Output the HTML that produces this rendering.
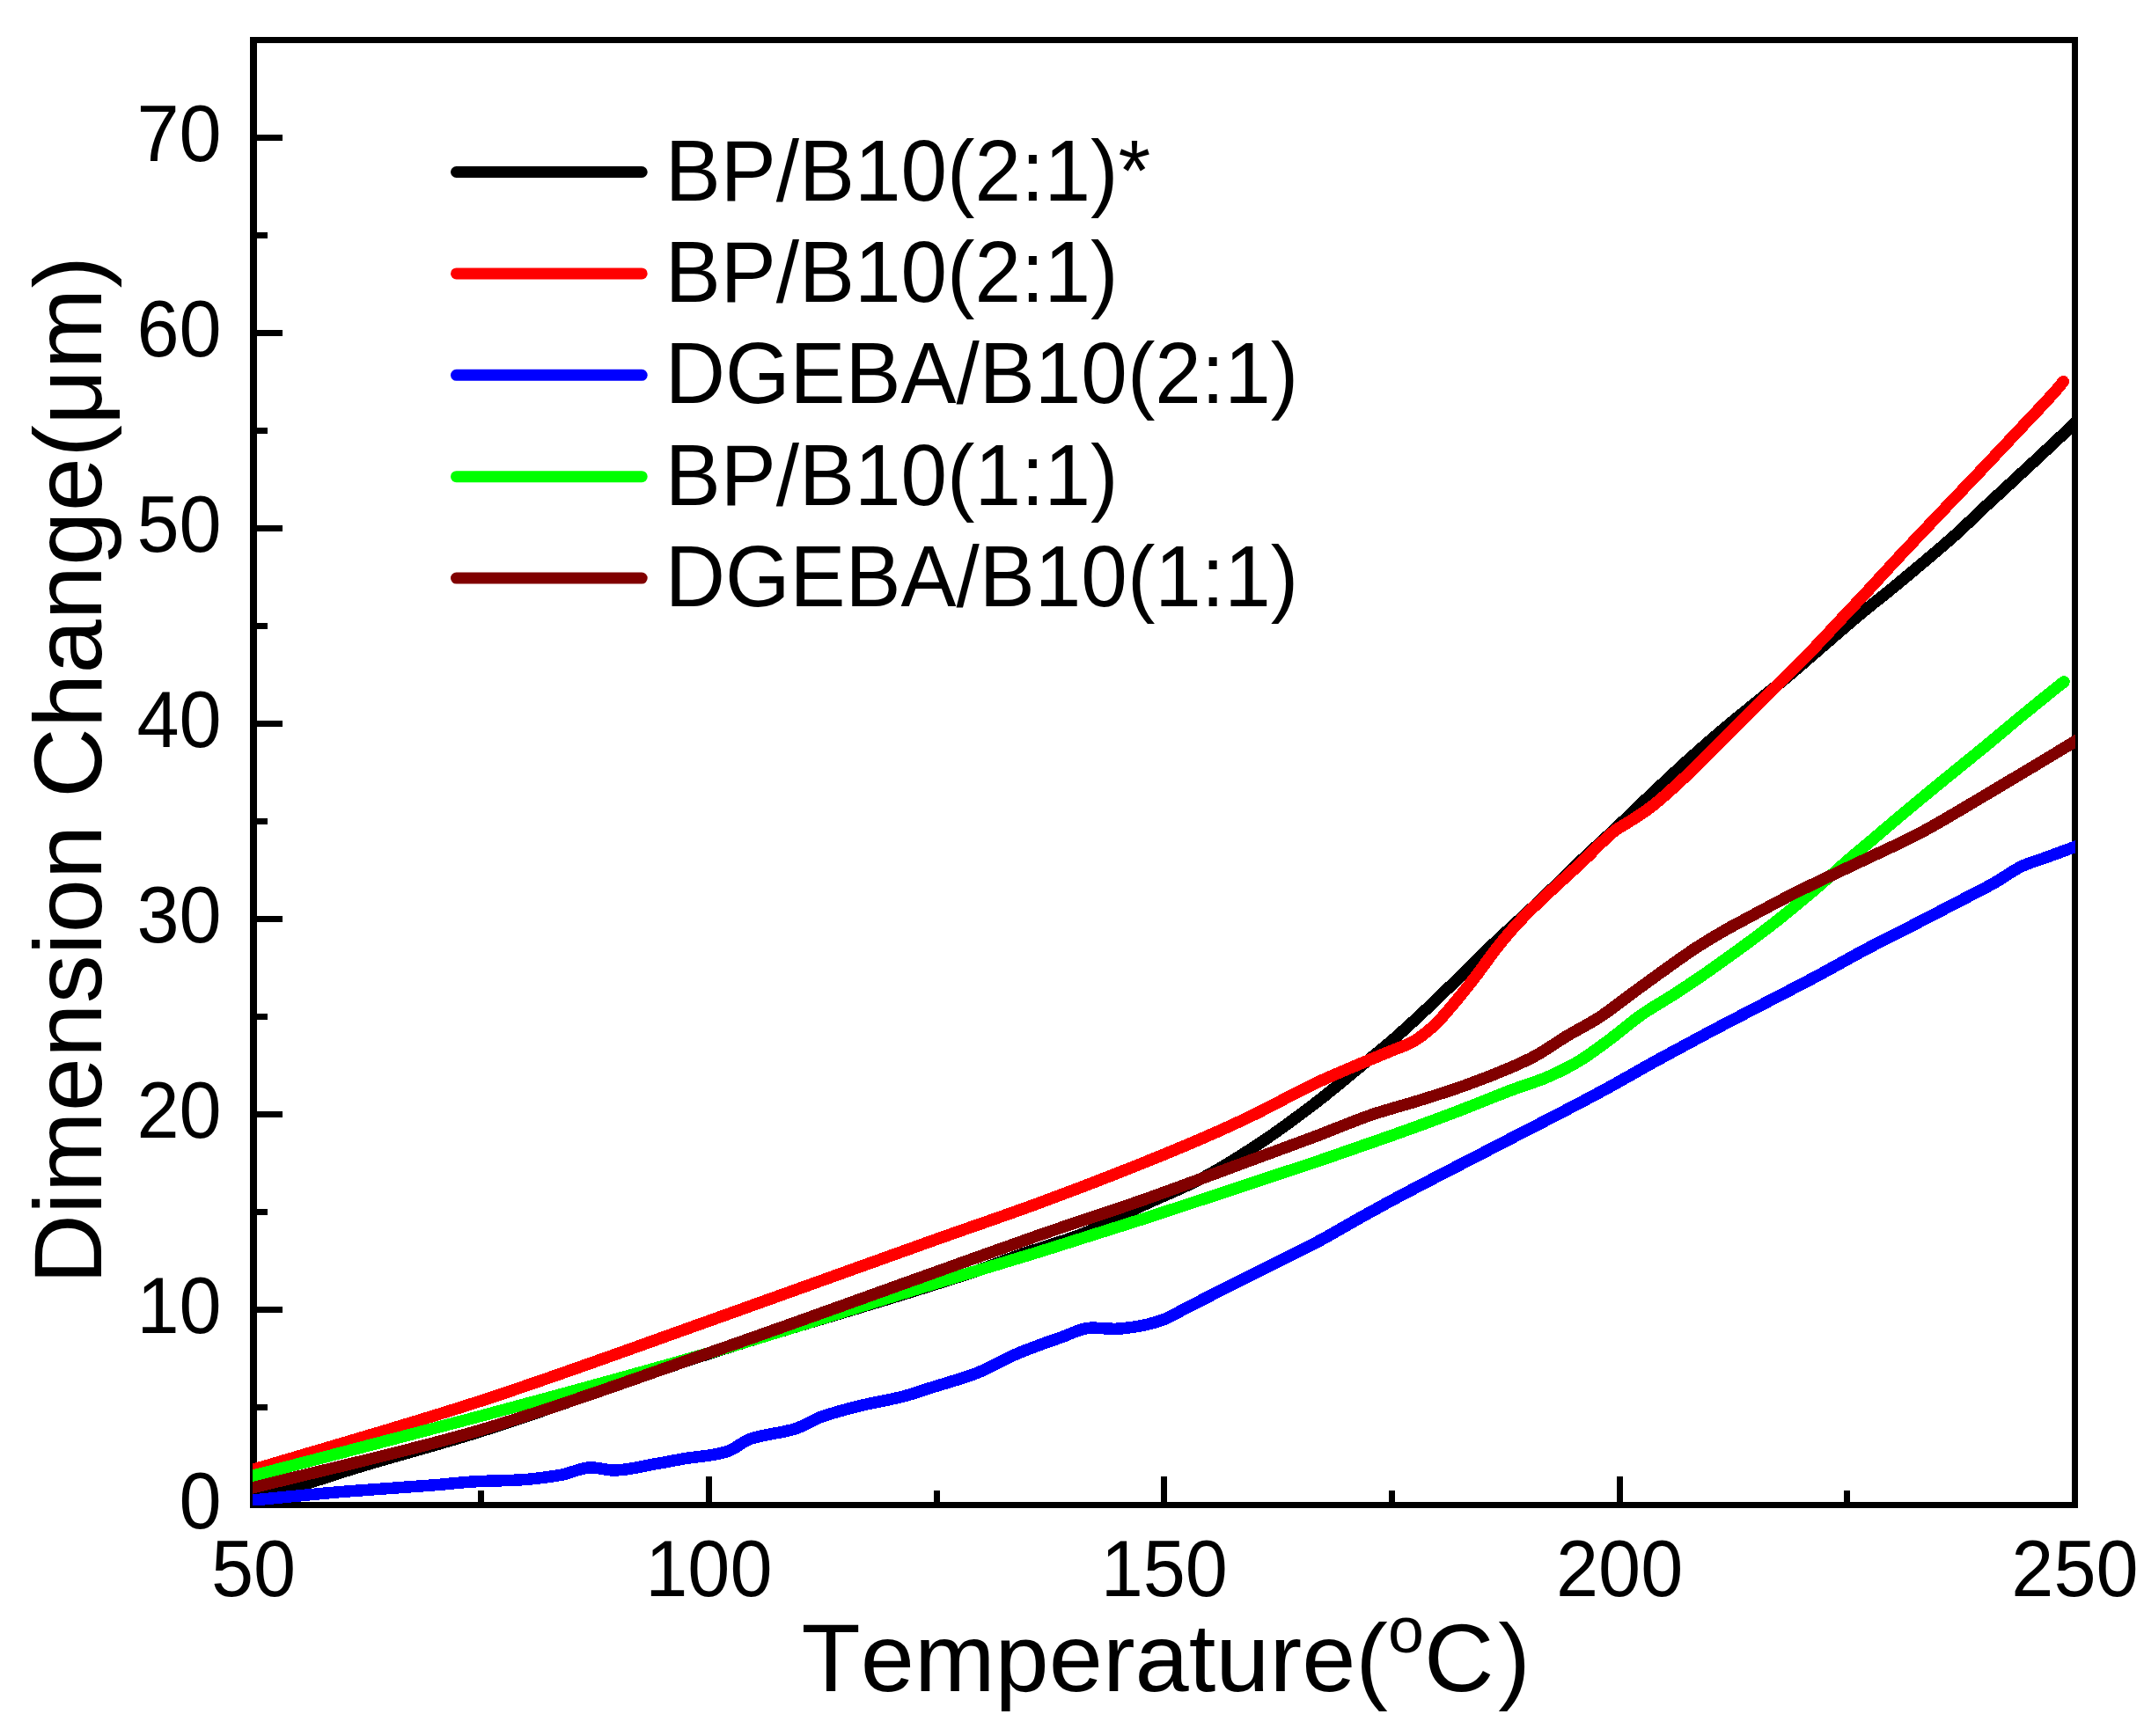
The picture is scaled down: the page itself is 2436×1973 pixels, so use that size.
<!DOCTYPE html>
<html lang="en">
<head>
<meta charset="utf-8">
<title>Dimension Change vs Temperature</title>
<style>
html,body{margin:0;padding:0;background:#fff;}
body{width:2436px;height:1973px;overflow:hidden;}
svg{display:block;}
text{font-family:"Liberation Sans",sans-serif;fill:#000;font-kerning:none;font-variant-ligatures:none;}
.tick{font-size:86.5px;}
.title{font-size:110px;}
.ytitle{letter-spacing:0.25px;}
.leg{font-size:94.5px;}
.curve{fill:none;stroke-width:13.5;stroke-linejoin:round;}
</style>
</head>
<body>
<svg width="2436" height="1973" viewBox="0 0 2436 1973">
<rect x="0" y="0" width="2436" height="1973" fill="#fff"/>
<defs><clipPath id="plotclip"><rect x="287" y="45" width="2071" height="1666"/></clipPath></defs>
<g id="axes" fill="#000" shape-rendering="crispEdges">
<rect x="284" y="42" width="8" height="1672"/>
<rect x="2354" y="42" width="7" height="1672"/>
<rect x="284" y="42" width="2077" height="7"/>
<rect x="284" y="1707" width="2077" height="7"/>
<rect x="801.9" y="1678" width="7" height="30"/>
<rect x="1319.2" y="1678" width="7" height="30"/>
<rect x="1836.6" y="1678" width="7" height="30"/>
<rect x="543.2" y="1694" width="7" height="14"/>
<rect x="1060.6" y="1694" width="7" height="14"/>
<rect x="1577.9" y="1694" width="7" height="14"/>
<rect x="2095.3" y="1694" width="7" height="14"/>
<rect x="288" y="1485.0" width="33" height="7"/>
<rect x="288" y="1263.0" width="33" height="7"/>
<rect x="288" y="1041.0" width="33" height="7"/>
<rect x="288" y="819.0" width="33" height="7"/>
<rect x="288" y="597.0" width="33" height="7"/>
<rect x="288" y="375.0" width="33" height="7"/>
<rect x="288" y="153.0" width="33" height="7"/>
<rect x="288" y="1596.0" width="16" height="7"/>
<rect x="288" y="1374.0" width="16" height="7"/>
<rect x="288" y="1152.0" width="16" height="7"/>
<rect x="288" y="930.0" width="16" height="7"/>
<rect x="288" y="708.0" width="16" height="7"/>
<rect x="288" y="486.0" width="16" height="7"/>
<rect x="288" y="264.0" width="16" height="7"/>
</g>
<g class="tick" text-anchor="middle">
<text transform="translate(288.0,1814.1) scale(1,1.045)">50</text>
<text transform="translate(805.4,1814.1) scale(1,1.045)">100</text>
<text transform="translate(1322.8,1814.1) scale(1,1.045)">150</text>
<text transform="translate(1840.1,1814.1) scale(1,1.045)">200</text>
<text transform="translate(2357.5,1814.1) scale(1,1.045)">250</text>
</g>
<g class="tick" text-anchor="end">
<text transform="translate(251.7,1736.5) scale(1,1.045)">0</text>
<text transform="translate(251.7,1514.5) scale(1,1.045)">10</text>
<text transform="translate(251.7,1292.5) scale(1,1.045)">20</text>
<text transform="translate(251.7,1070.5) scale(1,1.045)">30</text>
<text transform="translate(251.7,848.5) scale(1,1.045)">40</text>
<text transform="translate(251.7,626.5) scale(1,1.045)">50</text>
<text transform="translate(251.7,404.5) scale(1,1.045)">60</text>
<text transform="translate(251.7,182.5) scale(1,1.045)">70</text>
</g>
<text class="title" text-anchor="middle" transform="translate(1324.8,1922) scale(1,1.0)">Temperature(<tspan font-size="73.7" dy="-44">o</tspan><tspan dy="44">C</tspan><tspan dx="5">)</tspan></text>
<text class="title ytitle" text-anchor="middle" transform="translate(115,875) rotate(-90) scale(1,1.0)">Dimension Change(μm)</text>
<g clip-path="url(#plotclip)" shape-rendering="crispEdges">
<path class="curve" stroke="#000000" stroke-linecap="butt" d="M280.0,1706.0 C282.7,1705.3 285.3,1704.7 288.0,1704.0 C309.6,1698.3 331.2,1691.5 352.8,1684.8 C369.0,1679.8 385.1,1674.3 401.3,1669.3 C447.5,1655.1 493.8,1643.1 540.0,1628.7 C628.5,1601.1 716.9,1567.0 805.4,1538.5 C890.3,1511.2 975.1,1487.4 1060.0,1460.5 C1075.3,1455.6 1090.7,1450.9 1106.0,1445.6 C1124.2,1439.4 1142.4,1432.0 1160.6,1425.6 C1183.7,1417.5 1206.9,1411.4 1230.0,1402.3 C1254.2,1392.8 1278.3,1379.2 1302.5,1368.0 C1322.7,1358.7 1342.8,1350.9 1363.0,1340.5 C1383.3,1330.1 1403.5,1317.4 1423.8,1304.3 C1448.1,1288.6 1472.3,1270.7 1496.6,1252.1 C1512.8,1239.7 1528.9,1225.8 1545.1,1212.6 C1556.7,1203.1 1568.4,1194.0 1580.0,1184.0 C1593.7,1172.2 1607.5,1159.3 1621.2,1146.4 C1635.0,1133.5 1648.7,1119.8 1662.5,1106.4 C1673.0,1096.1 1683.5,1085.5 1694.0,1075.4 C1709.0,1061.1 1723.9,1047.7 1738.9,1033.6 C1747.4,1025.6 1755.8,1017.5 1764.3,1009.3 C1776.2,997.8 1788.1,985.9 1800.0,974.6 C1810.9,964.3 1821.8,954.6 1832.7,944.3 C1846.9,931.0 1861.0,917.0 1875.2,903.6 C1889.7,889.9 1904.3,876.1 1918.8,863.0 C1931.8,851.3 1944.7,840.0 1957.7,829.0 C1969.8,818.8 1981.9,809.2 1994.0,799.3 C2005.7,789.7 2017.4,780.5 2029.1,770.7 C2040.8,760.9 2052.6,750.5 2064.3,740.4 C2081.3,725.8 2098.2,710.8 2115.2,696.7 C2127.3,686.6 2139.5,677.3 2151.6,667.3 C2164.1,657.0 2176.7,646.5 2189.2,635.9 C2200.1,626.7 2210.9,617.6 2221.8,607.8 C2233.1,597.6 2244.5,586.2 2255.8,575.6 C2267.9,564.3 2280.1,553.2 2292.2,542.0 C2301.9,533.0 2311.6,524.1 2321.3,515.0 C2332.2,504.8 2343.1,494.6 2354.0,484.3 C2358.0,480.5 2362.0,476.8 2366.0,473.0"/>
<path class="curve" stroke="#ff0000" stroke-linecap="round" d="M280.0,1672.6 C282.7,1671.8 285.3,1671.0 288.0,1670.2 C372.0,1645.0 456.0,1621.4 540.0,1594.2 C628.5,1565.6 716.9,1532.7 805.4,1501.3 C890.3,1471.2 975.1,1440.1 1060.0,1409.9 C1100.4,1395.5 1140.9,1381.9 1181.3,1367.0 C1221.7,1352.1 1262.1,1336.5 1302.5,1320.2 C1328.3,1309.8 1354.2,1299.0 1380.0,1287.6 C1394.6,1281.1 1409.2,1274.4 1423.8,1267.3 C1448.1,1255.6 1472.3,1241.5 1496.6,1230.2 C1524.4,1217.3 1552.2,1206.3 1580.0,1194.6 C1588.1,1191.2 1596.2,1188.8 1604.3,1184.5 C1612.4,1180.2 1620.4,1173.7 1628.5,1166.5 C1636.6,1159.3 1644.7,1149.0 1652.8,1139.5 C1660.9,1130.0 1668.9,1119.7 1677.0,1109.3 C1685.1,1098.8 1693.2,1086.8 1701.3,1076.6 C1709.4,1066.5 1717.4,1056.9 1725.5,1048.2 C1733.6,1039.5 1741.7,1031.7 1749.8,1023.9 C1757.9,1016.1 1765.9,1008.9 1774.0,1001.4 C1782.1,993.9 1790.2,986.6 1798.3,979.0 C1811.0,967.2 1823.7,952.2 1836.4,943.0 C1841.3,939.5 1846.1,937.1 1851.0,934.0 C1859.1,928.8 1867.1,923.8 1875.2,917.7 C1888.9,907.3 1902.7,894.2 1916.4,881.3 C1930.2,868.4 1943.9,853.8 1957.7,840.1 C1969.0,828.9 1980.3,817.7 1991.6,806.5 C2001.3,796.9 2010.9,787.4 2020.6,777.7 C2032.7,765.5 2044.9,753.5 2057.0,740.9 C2069.1,728.3 2081.3,715.0 2093.4,702.1 C2103.9,690.9 2114.4,679.8 2124.9,668.5 C2135.0,657.6 2145.1,646.4 2155.2,635.5 C2163.3,626.8 2171.4,618.3 2179.5,609.7 C2188.8,599.9 2198.0,590.2 2207.3,580.4 C2221.6,565.3 2236.0,550.3 2250.3,535.2 C2264.9,519.8 2279.4,504.4 2294.0,488.8 C2308.4,473.4 2322.7,459.0 2337.1,442.4 C2339.5,439.6 2341.9,436.6 2344.3,433.7"/>
<path class="curve" stroke="#0000ff" stroke-linecap="butt" d="M280.0,1705.8 C282.7,1705.5 285.3,1705.3 288.0,1705.0 C322.5,1701.6 357.0,1698.0 391.5,1695.2 C426.0,1692.4 460.5,1690.5 495.0,1687.7 C510.0,1686.5 525.0,1684.6 540.0,1683.8 C556.7,1682.9 573.3,1682.9 590.0,1682.0 C605.7,1681.1 621.3,1679.0 637.0,1676.4 C648.3,1674.5 659.7,1667.9 671.0,1667.9 C679.9,1667.9 688.8,1671.0 697.7,1671.0 C713.9,1671.0 730.0,1666.2 746.2,1663.5 C758.3,1661.5 770.4,1658.8 782.5,1657.0 C790.1,1655.9 797.8,1655.3 805.4,1654.1 C812.3,1653.0 819.3,1651.8 826.2,1649.7 C835.1,1647.0 844.0,1638.2 852.9,1635.2 C869.9,1629.6 886.8,1629.1 903.8,1623.8 C913.5,1620.8 923.2,1613.9 932.9,1610.4 C947.5,1605.2 962.0,1601.4 976.6,1597.8 C992.7,1593.8 1008.9,1591.5 1025.0,1587.4 C1036.7,1584.4 1048.3,1580.2 1060.0,1576.5 C1076.2,1571.4 1092.3,1567.2 1108.5,1561.0 C1124.7,1554.8 1140.8,1544.7 1157.0,1538.0 C1173.2,1531.3 1189.3,1525.5 1205.5,1520.0 C1216.8,1516.1 1228.2,1509.1 1239.5,1509.1 C1248.4,1509.1 1257.3,1510.3 1266.2,1510.3 C1275.1,1510.3 1283.9,1508.8 1292.8,1507.4 C1301.7,1506.0 1310.6,1503.6 1319.5,1500.6 C1330.0,1497.1 1340.5,1490.2 1351.0,1484.9 C1375.3,1472.7 1399.5,1460.2 1423.8,1448.0 C1448.1,1435.8 1472.3,1424.5 1496.6,1411.6 C1512.8,1403.0 1528.9,1393.2 1545.1,1384.2 C1556.7,1377.7 1568.4,1371.3 1580.0,1365.0 C1620.4,1343.3 1660.9,1322.9 1701.3,1301.9 C1741.7,1280.9 1782.1,1260.7 1822.5,1238.8 C1842.7,1227.8 1863.0,1215.9 1883.2,1204.8 C1903.4,1193.7 1923.6,1182.8 1943.8,1172.1 C1964.0,1161.4 1984.2,1151.1 2004.4,1140.6 C2024.6,1130.1 2044.9,1119.8 2065.1,1109.0 C2083.4,1099.2 2101.7,1088.6 2120.0,1078.9 C2137.8,1069.5 2155.6,1060.8 2173.4,1051.6 C2192.0,1042.1 2210.5,1032.5 2229.1,1022.8 C2241.2,1016.5 2253.4,1010.5 2265.5,1003.7 C2276.4,997.6 2287.4,988.9 2298.3,984.0 C2307.6,979.9 2316.9,977.4 2326.2,974.0 C2336.8,970.1 2347.4,966.2 2358.0,962.2 C2360.7,961.2 2363.3,960.2 2366.0,959.2"/>
<path class="curve" stroke="#00ff00" stroke-linecap="round" d="M280.0,1679.2 C282.7,1678.5 285.3,1677.8 288.0,1677.1 C372.0,1655.1 456.0,1633.6 540.0,1611.0 C628.5,1587.2 716.9,1563.5 805.4,1537.7 C890.3,1513.0 975.1,1485.3 1060.0,1459.4 C1100.4,1447.1 1140.9,1435.1 1181.3,1422.6 C1221.7,1410.1 1262.1,1397.3 1302.5,1384.2 C1342.9,1371.1 1383.4,1357.4 1423.8,1344.0 C1448.1,1336.0 1472.3,1328.2 1496.6,1320.0 C1524.4,1310.6 1552.2,1300.9 1580.0,1291.0 C1604.3,1282.3 1628.5,1273.5 1652.8,1264.3 C1675.2,1255.8 1697.6,1246.2 1720.0,1237.9 C1732.1,1233.4 1744.3,1230.0 1756.4,1224.9 C1768.5,1219.8 1780.7,1213.8 1792.8,1206.7 C1804.9,1199.6 1817.0,1190.2 1829.1,1181.3 C1841.2,1172.4 1853.4,1161.4 1865.5,1153.0 C1877.6,1144.6 1889.8,1138.0 1901.9,1130.2 C1912.6,1123.3 1923.3,1116.2 1934.0,1108.8 C1942.8,1102.8 1951.5,1096.5 1960.3,1090.2 C1970.4,1083.0 1980.5,1075.7 1990.6,1068.2 C2000.7,1060.6 2010.9,1053.0 2021.0,1044.9 C2039.1,1030.5 2057.1,1015.3 2075.2,999.6 C2082.9,992.9 2090.5,985.6 2098.2,978.9 C2107.7,970.6 2117.2,962.9 2126.7,954.9 C2136.8,946.3 2146.9,937.6 2157.0,929.1 C2174.6,914.3 2192.1,899.9 2209.7,885.5 C2224.7,873.2 2239.6,861.3 2254.6,849.0 C2269.6,836.7 2284.5,823.9 2299.5,811.6 C2314.7,799.2 2329.8,786.9 2345.0,774.9"/>
<path class="curve" stroke="#800000" stroke-linecap="butt" d="M280.0,1692.6 C282.7,1691.9 285.3,1691.3 288.0,1690.6 C372.0,1669.5 456.0,1651.2 540.0,1627.0 C628.5,1601.5 716.9,1568.3 805.4,1537.7 C890.3,1508.3 975.1,1477.2 1060.0,1446.9 C1100.4,1432.5 1140.9,1417.7 1181.3,1403.6 C1221.7,1389.5 1262.1,1376.7 1302.5,1362.4 C1342.9,1348.1 1383.4,1332.6 1423.8,1317.7 C1448.1,1308.7 1472.3,1300.0 1496.6,1290.8 C1517.7,1282.8 1538.9,1273.5 1560.0,1266.4 C1577.4,1260.6 1594.7,1256.2 1612.1,1250.8 C1629.5,1245.4 1646.9,1239.9 1664.3,1233.7 C1681.7,1227.5 1699.0,1220.8 1716.4,1213.3 C1725.7,1209.3 1735.0,1205.1 1744.3,1200.1 C1756.4,1193.6 1768.5,1184.6 1780.6,1177.3 C1792.7,1170.0 1804.9,1164.2 1817.0,1156.4 C1829.1,1148.6 1841.3,1138.5 1853.4,1129.7 C1865.5,1120.9 1877.7,1111.9 1889.8,1103.3 C1901.9,1094.7 1914.1,1085.7 1926.2,1077.8 C1938.3,1069.9 1950.4,1062.7 1962.5,1055.8 C1968.3,1052.5 1974.2,1049.4 1980.0,1046.3 C2000.0,1035.6 2020.0,1024.7 2040.0,1014.6 C2054.2,1007.5 2068.3,1000.9 2082.5,994.1 C2098.7,986.4 2114.8,978.9 2131.0,971.2 C2144.0,965.0 2157.0,959.2 2170.0,952.7 C2176.0,949.7 2181.9,946.6 2187.9,943.3 C2205.7,933.6 2223.5,922.8 2241.3,912.3 C2257.5,902.8 2273.6,893.1 2289.8,883.4 C2301.9,876.2 2314.1,868.9 2326.2,861.6 C2336.8,855.2 2347.4,848.8 2358.0,842.4 C2360.7,840.8 2363.3,839.2 2366.0,837.6"/>
</g>
<g id="legend">
<line x1="518.5" x2="729.2" y1="195.5" y2="195.5" stroke="#000000" stroke-width="13" stroke-linecap="round"/>
<text class="leg" transform="translate(755.7,227.5) scale(1,1.035)">BP/B10(2:1)*</text>
<line x1="518.5" x2="729.2" y1="310.9" y2="310.9" stroke="#ff0000" stroke-width="13" stroke-linecap="round"/>
<text class="leg" transform="translate(755.7,342.9) scale(1,1.035)">BP/B10(2:1)</text>
<line x1="518.5" x2="729.2" y1="426.3" y2="426.3" stroke="#0000ff" stroke-width="13" stroke-linecap="round"/>
<text class="leg" transform="translate(755.7,458.3) scale(1,1.035)">DGEBA/B10(2:1)</text>
<line x1="518.5" x2="729.2" y1="541.7" y2="541.7" stroke="#00ff00" stroke-width="13" stroke-linecap="round"/>
<text class="leg" transform="translate(755.7,573.7) scale(1,1.035)">BP/B10(1:1)</text>
<line x1="518.5" x2="729.2" y1="657.1" y2="657.1" stroke="#800000" stroke-width="13" stroke-linecap="round"/>
<text class="leg" transform="translate(755.7,689.1) scale(1,1.035)">DGEBA/B10(1:1)</text>
</g>
</svg>
</body>
</html>
